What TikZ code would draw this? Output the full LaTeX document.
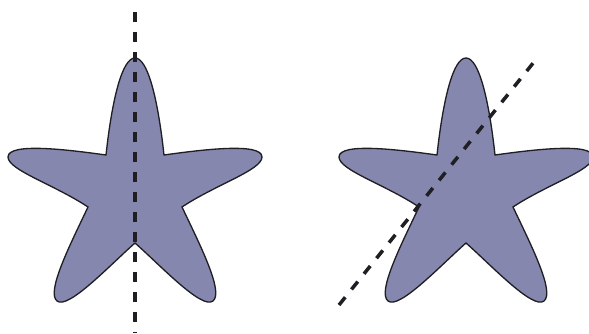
\documentclass[tikz,border=0pt]{standalone}
\usepackage{xcolor}
\usepackage{tikz}
\definecolor{starfill}{RGB}{133,135,174}
\definecolor{stardark}{RGB}{30,30,35}
\tikzset{
  star/.style={fill=starfill, draw=stardark, line width=0.75pt},
  axis/.style={draw=stardark, line width=2pt, dash pattern=on 0.2cm off 0.2cm}
}
% outline of one starfish, in pixels of the reference
\newcommand{\seastar}{%
  (106,155) .. controls (112,100) and (122,58) .. (135,58)
  .. controls (148,58) and (158,100) .. (164,155)
  .. controls (200,150) and (262,142) .. (262,157)
  .. controls (262,170) and (215,185) .. (182,207)
  .. controls (200,245) and (224,292) .. (213,301)
  .. controls (202,310) and (160,265) .. (135,243)
  .. controls (110,265) and (68,310) .. (57,301)
  .. controls (46,292) and (70,245) .. (88,207)
  .. controls (55,185) and (8,170) .. (8,157)
  .. controls (8,142) and (70,150) .. (106,155) -- cycle}

\begin{document}
\begin{tikzpicture}[x=0.02cm, y=-0.02cm]
  \useasboundingbox (0,0) rectangle (589,334);

  % Left star, mirror line
  \begin{scope}
    \path[star] \seastar;
    \draw[axis] (135,12) -- (135,332);
  \end{scope}

  % Right star, slanted line
  \begin{scope}[xshift=331*0.02cm]
    \path[star] \seastar;
  \end{scope}
  \draw[axis] (339,305) -- (538,57);
\end{tikzpicture}
\end{document}
